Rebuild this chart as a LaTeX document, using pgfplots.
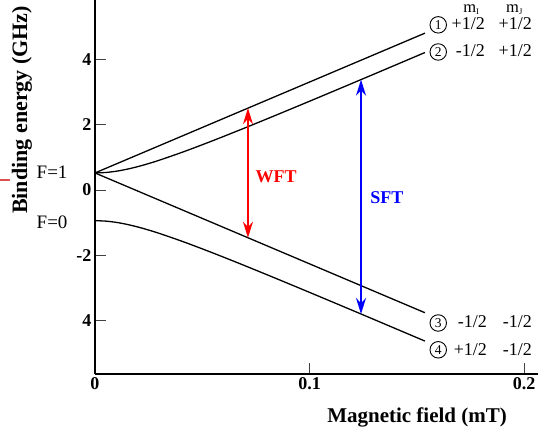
\documentclass[border=0pt]{standalone}
\usepackage{pgfplots}
\pgfplotsset{compat=1.18}
\usepackage{fontspec}
\setmainfont{Liberation Serif}
\usetikzlibrary{arrows.meta}

\pgfplotstableread{
B      E2      E4
0      0.520   -0.940
0.005  0.534   -0.954
0.01   0.573   -0.993
0.015  0.635   -1.055
0.02   0.714   -1.134
0.025  0.807   -1.227
0.03   0.910   -1.330
0.04   1.137   -1.557
0.05   1.382   -1.802
0.06   1.638   -2.058
0.07   1.901   -2.321
0.08   2.169   -2.589
0.09   2.440   -2.860
0.10   2.713   -3.133
0.11   2.988   -3.408
0.12   3.264   -3.684
0.13   3.541   -3.961
0.14   3.819   -4.239
0.1538 4.203   -4.623
}\levels

\begin{document}
\begin{tikzpicture}
\path[use as bounding box] (-95pt,-56pt) rectangle (443pt,374pt);
\begin{axis}[
  at={(0,0)}, anchor=south west,
  scale only axis, width=443pt, height=374pt,
  xmin=0, xmax=0.2065, ymin=-5.63, ymax=5.81,
  axis x line=bottom, axis y line=left,
  axis line style={-, line width=2.6pt},
  xtick={0,0.1,0.2}, xticklabels={0,0.1,0.2},
  ytick={-4,-2,0,2,4}, yticklabels={4,-2,0,2,4},
  tick align=inside, major tick length=11pt,
  tick style={line width=0.8pt, black!75},
  ticklabel style={font=\fontsize{18}{20}\selectfont\bfseries},
  xlabel={Magnetic field (mT)},
  ylabel={Binding energy (GHz)},
  xlabel style={font=\fontsize{21}{24}\selectfont\bfseries, at={(axis description cs:0.727,-0.115)}, anchor=center},
  ylabel style={font=\fontsize{22}{24}\selectfont\bfseries, at={(axis description cs:-0.1648,0.706)}, anchor=center},
  clip=false,
]
\addplot[black, line width=1.3pt, no marks] coordinates {(0,0.520) (0.1538,4.796)};
\addplot[black, line width=1.3pt, no marks, smooth] table[x=B, y=E2] {\levels};
\addplot[black, line width=1.3pt, no marks] coordinates {(0,0.520) (0.1538,-3.756)};
\addplot[black, line width=1.3pt, no marks, smooth] table[x=B, y=E4] {\levels};

\addplot[red, line width=1.8pt, no marks, arrows={Stealth[length=16pt,width=10pt]-Stealth[length=16pt,width=10pt]}] coordinates {(0.0713,2.502) (0.0713,-1.462)};
\addplot[blue, line width=1.8pt, no marks, arrows={Stealth[length=16pt,width=10pt]-Stealth[length=16pt,width=10pt]}] coordinates {(0.124,3.374) (0.124,-3.794)};

\node[text=red, font=\fontsize{18}{20}\selectfont\bfseries] at (axis cs:0.0844,0.40) {WFT};
\node[text=blue, font=\fontsize{18}{20}\selectfont\bfseries] at (axis cs:0.136,-0.23) {SFT};

\node[font=\fontsize{19}{20}\selectfont] at (axis cs:-0.020,0.535) {F=1};
\node[font=\fontsize{19}{20}\selectfont] at (axis cs:-0.020,-1.0) {F=0};

\draw[color={rgb,255:red,220;green,80;blue,80}, line width=2pt] (axis cs:-0.0443,0.306) -- (axis cs:-0.0396,0.306);

\tikzset{lvl/.style={font=\fontsize{18}{20}\selectfont, inner sep=0pt, anchor=base east},
  circ/.style={circle, draw, line width=0.9pt, minimum size=16.5pt, inner sep=0pt, font=\fontsize{13.5}{14}\selectfont}}
\node[font=\fontsize{16.5}{18}\selectfont, inner sep=0pt, anchor=base west] at (axis cs:0.1716,5.42) {m\raisebox{-0.2ex}{\fontsize{8.5}{9}\selectfont I}};
\node[font=\fontsize{16.5}{18}\selectfont, inner sep=0pt, anchor=base west] at (axis cs:0.1916,5.42) {m\raisebox{-0.2ex}{\fontsize{8.5}{9}\selectfont J}};

\node[circ] at (axis cs:0.160,5.05) {1};
\node[lvl] at (axis cs:0.1818,4.92) {+1/2};
\node[lvl] at (axis cs:0.2037,4.92) {+1/2};

\node[circ] at (axis cs:0.160,4.22) {2};
\node[lvl] at (axis cs:0.1818,4.07) {-1/2};
\node[lvl] at (axis cs:0.2037,4.07) {+1/2};

\node[circ] at (axis cs:0.160,-4.07) {3};
\node[lvl] at (axis cs:0.1828,-4.22) {-1/2};
\node[lvl] at (axis cs:0.2037,-4.22) {-1/2};

\node[circ] at (axis cs:0.160,-4.89) {4};
\node[lvl] at (axis cs:0.1828,-5.05) {+1/2};
\node[lvl] at (axis cs:0.2037,-5.05) {-1/2};
\end{axis}
\end{tikzpicture}
\end{document}
